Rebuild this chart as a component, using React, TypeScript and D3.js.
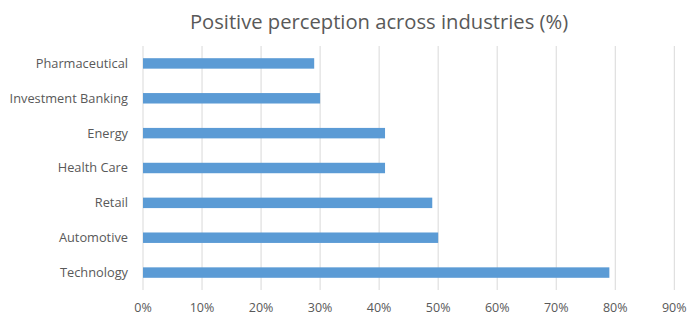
import React from "react";
import * as d3 from "d3";

const categories = ["Pharmaceutical", "Investment Banking", "Energy", "Health Care", "Retail", "Automotive", "Technology"];
const values = [29, 30, 41, 41, 49, 50, 79];
const ticks = [0, 10, 20, 30, 40, 50, 60, 70, 80, 90];
const title = "Positive perception across industries (%)";

const W = 690, H = 320;
const left = 143, right = 674.3, top = 46, bottom = 290;

export default function App() {
  const x = d3.scaleLinear().domain([0, 90]).range([left, right]);
  const y = d3.scaleBand().domain(categories).range([top, bottom]).paddingInner(0.7).paddingOuter(0.35);
  const font = "Open Sans, sans-serif";
  return (
    <svg width={W} height={H} style={{ position: "absolute", left: 0, top: 0, background: "#fff" }}>
      <rect width={W} height={H} fill="#fff" />
      <text x={379} y={29} textAnchor="middle" fontFamily={font} fontSize={20.2} fill="#595959">{title}</text>
      {ticks.map((t) => (
        <g key={t}>
          <line x1={x(t)} x2={x(t)} y1={top} y2={bottom} stroke="#D9D9D9" strokeWidth={1} />
          <text x={x(t)} y={312} textAnchor="middle" fontFamily={font} fontSize={12.5} fill="#595959">{t}%</text>
        </g>
      ))}
      {categories.map((c, i) => (
        <g key={c}>
          <rect x={x(0)} y={y(c)!} width={x(values[i]) - x(0)} height={y.bandwidth()} fill="#5B9BD5" />
          <text x={128} y={y(c)! + y.bandwidth() / 2} dy="0.35em" textAnchor="end" fontFamily={font} fontSize={12.8} fill="#595959">{c}</text>
        </g>
      ))}
    </svg>
  );
}
